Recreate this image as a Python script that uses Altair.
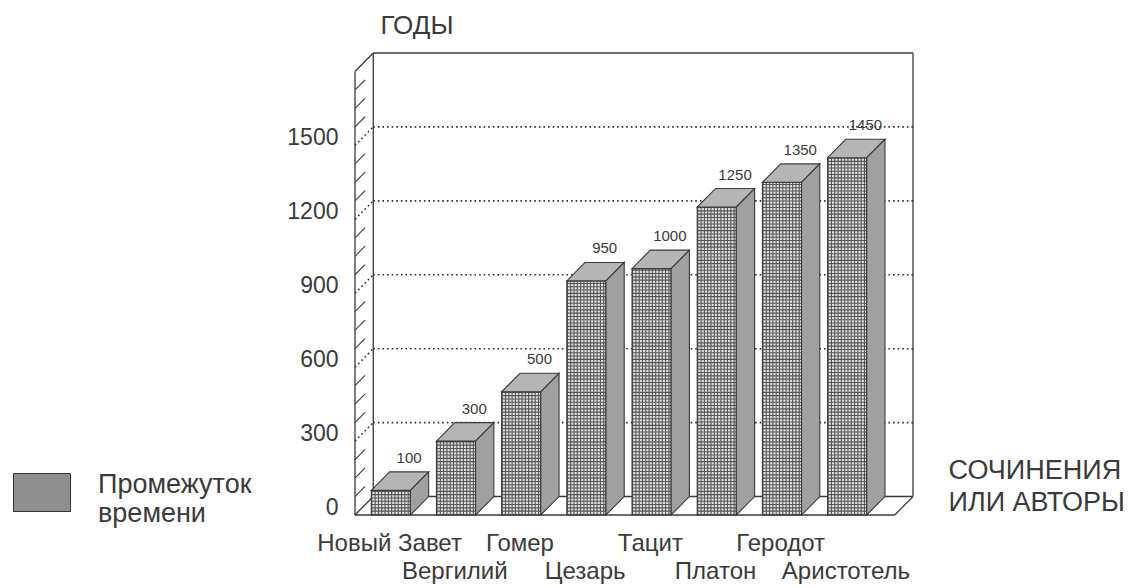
import json
import altair as alt
import pandas as pd

# ---------------- data ----------------
NAMES = ["Новый Завет", "Вергилий", "Гомер", "Цезарь", "Тацит", "Платон", "Геродот", "Аристотель"]
VALUES = [100, 300, 500, 950, 1000, 1250, 1350, 1450]
Y_TICKS = [0, 300, 600, 900, 1200, 1500]
GRID = [300, 600, 900, 1200, 1500]
MINOR_TICKS = [t for t in range(75, 1800, 75) if t % 300 != 0]
SERIES = "Промежуток времени"
Y_TITLE = "ГОДЫ"
X_TITLE = ["СОЧИНЕНИЯ", "ИЛИ АВТОРЫ"]

# ---------------- styling / pseudo-3D geometry constants ----------------
FONT = "Liberation Sans"
INK = "#3a3a3a"
LINE = "#3a3a3a"
GRIDC = "#555555"

W, H = 558, 462
YMAX = 1800          # top of the back wall
DY = 75              # depth of the box, in value units
DX = 0.28            # depth of the box, in category units
HALF = 0.3           # half width of a bar
WALL_L = -0.55
WALL_R = 7.73
XMIN = WALL_L - DX
XMAX = WALL_R
PXU = W / (XMAX - XMIN)

XS = alt.Scale(domain=[XMIN, XMAX], nice=False, zero=False)
YS = alt.Scale(domain=[-DY, YMAX], nice=False, zero=False)

names_js = json.dumps(NAMES, ensure_ascii=False)
X_AX = alt.Axis(
    values=list(range(len(NAMES))),
    labelExpr=f"datum.value % 2 == 0 ? {names_js}[datum.value] : ['', {names_js}[datum.value]]",
    domain=False, ticks=False, tickSize=0, grid=False,
    labelFont=FONT, labelFontSize=24, labelColor=INK, labelBaseline="top",
    labelLineHeight=28, labelPadding=16, labelOffset=-20,
    labelOverlap=False, labelFlush=False, labelLimit=300,
    title=X_TITLE, titleX=593, titleY=-36.5, titleAlign="left", titleBaseline="alphabetic",
    titleFont=FONT, titleFontSize=27, titleFontWeight="normal", titleColor=INK, titleLineHeight=32,
)
Y_AX = alt.Axis(
    values=Y_TICKS, format="d", domain=False, ticks=False, tickSize=0, grid=False,
    labelFont=FONT, labelFontSize=23, labelColor=INK, labelPadding=17, labelOffset=11,
    labelBaseline="middle", labelFlush=False, labelOverlap=False,
    title=Y_TITLE, titleAngle=0, titleX=25, titleY=-19.5, titleAlign="left",
    titleBaseline="alphabetic", titleFont=FONT, titleFontSize=26, titleFontWeight="normal",
    titleColor=INK,
)


def X(field, **kw):
    return alt.X(f"{field}:Q", scale=XS, axis=X_AX, **kw)


def Y(field, **kw):
    return alt.Y(f"{field}:Q", scale=YS, axis=Y_AX, **kw)


# ---------------- tables built from the arrays ----------------
frame_df = pd.DataFrame(
    [
        (WALL_L, YMAX, WALL_R, YMAX),
        (WALL_L, 0, WALL_L, YMAX),
        (WALL_R, 0, WALL_R, YMAX),
        (XMIN, -DY, XMIN, YMAX - DY),
        (XMIN, YMAX - DY, WALL_L, YMAX),
        (XMIN, -DY, WALL_L, 0),
        (WALL_L, 0, WALL_R, 0),
        (XMIN, -DY, WALL_R - DX, -DY),
        (WALL_R - DX, -DY, WALL_R, 0),
    ],
    columns=["x", "y", "x2", "y2"],
)

grid_rows = []
for g in GRID:
    grid_rows.append((WALL_L, g, WALL_R, g))
    grid_rows.append((XMIN, g - DY, WALL_L, g))
grid_df = pd.DataFrame(grid_rows, columns=["x", "y", "x2", "y2"])

minor_df = pd.DataFrame(
    [(XMIN, t - DY, XMIN + 0.55 * DX, t - DY + 0.55 * DY) for t in MINOR_TICKS],
    columns=["x", "y", "x2", "y2"],
)

bars = pd.DataFrame({"name": NAMES, "value": VALUES})
bars["i"] = range(len(NAMES))
bars["label"] = [str(v) for v in VALUES]
bars["series"] = SERIES
bars["fx1"] = bars["i"] - HALF - DX
bars["fx2"] = bars["i"] + HALF - DX
bars["fc"] = bars["i"] - DX
bars["fy1"] = -DY
bars["fy2"] = bars["value"] - DY
bars["fmid"] = bars["value"] / 2 - DY

top_rows, side_rows = [], []
for i, (n, v) in enumerate(zip(NAMES, VALUES)):
    top_rows.append({"name": n, "y": v, "xa": i - HALF, "xb": i + HALF})
    top_rows.append({"name": n, "y": v - DY, "xa": i - HALF - DX, "xb": i + HALF - DX})
    side_rows.append({"name": n, "x": i + HALF - DX, "ya": v - DY, "yb": -DY})
    side_rows.append({"name": n, "x": i + HALF, "ya": v, "yb": 0})
top_df = pd.DataFrame(top_rows)
side_df = pd.DataFrame(side_rows)

LEG = alt.Legend(
    title=None, orient="none", legendX=-342, legendY=403, padding=0,
    symbolType="M-1,-0.404H1V0.93H-1Z", symbolSize=3249,
    symbolStrokeColor="#333333", symbolStrokeWidth=1,
    labelFont=FONT, labelFontSize=27, labelColor=INK, labelLimit=400, labelOffset=27,
    labelExpr="split(datum.label, ' ')",
)

# ---------------- layers ----------------
frame = alt.Chart(frame_df).mark_rule(color=LINE, strokeWidth=1.3).encode(
    x=X("x"), y=Y("y"), x2="x2", y2="y2")
grid = alt.Chart(grid_df).mark_rule(color="#2e2e2e", strokeWidth=1.6, strokeDash=[1.6, 3.0]).encode(
    x=X("x"), y=Y("y"), x2="x2", y2="y2")
minor = alt.Chart(minor_df).mark_rule(color=LINE, strokeWidth=1.1).encode(
    x=X("x"), y=Y("y"), x2="x2", y2="y2")

front_legend = alt.Chart(bars).mark_rect().encode(
    x=X("fx1"), x2="fx2", y=Y("fy2"), y2="fy1",
    color=alt.Color("series:N", scale=alt.Scale(range=["#8f8f8f"]), legend=LEG))
front_light = alt.Chart(bars).mark_rect(color="#e2e2e2").encode(
    x=X("fx1"), x2="fx2", y=Y("fy2"), y2="fy1")
tex_h = alt.Chart(bars).mark_rule(color=GRIDC, strokeWidth=2 * HALF * PXU,
                                  strokeDash=[1.1, 2.2], strokeCap="butt").encode(
    x=X("fc"), y=Y("fy1"), y2="fy2")
tex_v = alt.Chart(bars).mark_rule(color=GRIDC, strokeDash=[1.1, 2.2], strokeCap="butt").encode(
    x=X("fx1"), x2="fx2", y=Y("fmid"),
    strokeWidth=alt.StrokeWidth("value:Q", scale=alt.Scale(domain=[0, YMAX + DY], range=[0, H]),
                                legend=None))
front_outline = alt.Chart(bars).mark_rect(fillOpacity=0, stroke=LINE, strokeWidth=1.1).encode(
    x=X("fx1"), x2="fx2", y=Y("fy2"), y2="fy1")

top_face = alt.Chart(top_df).mark_area(orient="horizontal", fill="#b5b5b5", stroke=LINE,
                                       strokeWidth=1.1).encode(
    y=Y("y"), x=X("xa", stack=None), x2="xb", detail="name:N")
side_face = alt.Chart(side_df).mark_area(orient="vertical", fill="#a0a0a0", stroke=LINE,
                                         strokeWidth=1.1).encode(
    x=X("x"), y=Y("ya", stack=None), y2="yb", detail="name:N")

value_labels = alt.Chart(bars).mark_text(font=FONT, fontSize=15, color=INK, dy=-14,
                                         baseline="middle").encode(
    x=X("i"), y=Y("value"), text="label:N")

chart = alt.layer(
    frame, grid, minor, front_legend, front_light, tex_h, tex_v, front_outline,
    top_face, side_face, value_labels,
).properties(
    width=W, height=H,
    autosize=alt.AutoSizeParams(type="none"),
    padding={"left": 347, "top": 45, "right": 220, "bottom": 72},
    background="white",
).configure_view(strokeWidth=0)

chart.save("out.html", embed_options={"renderer": "svg", "actions": False})
